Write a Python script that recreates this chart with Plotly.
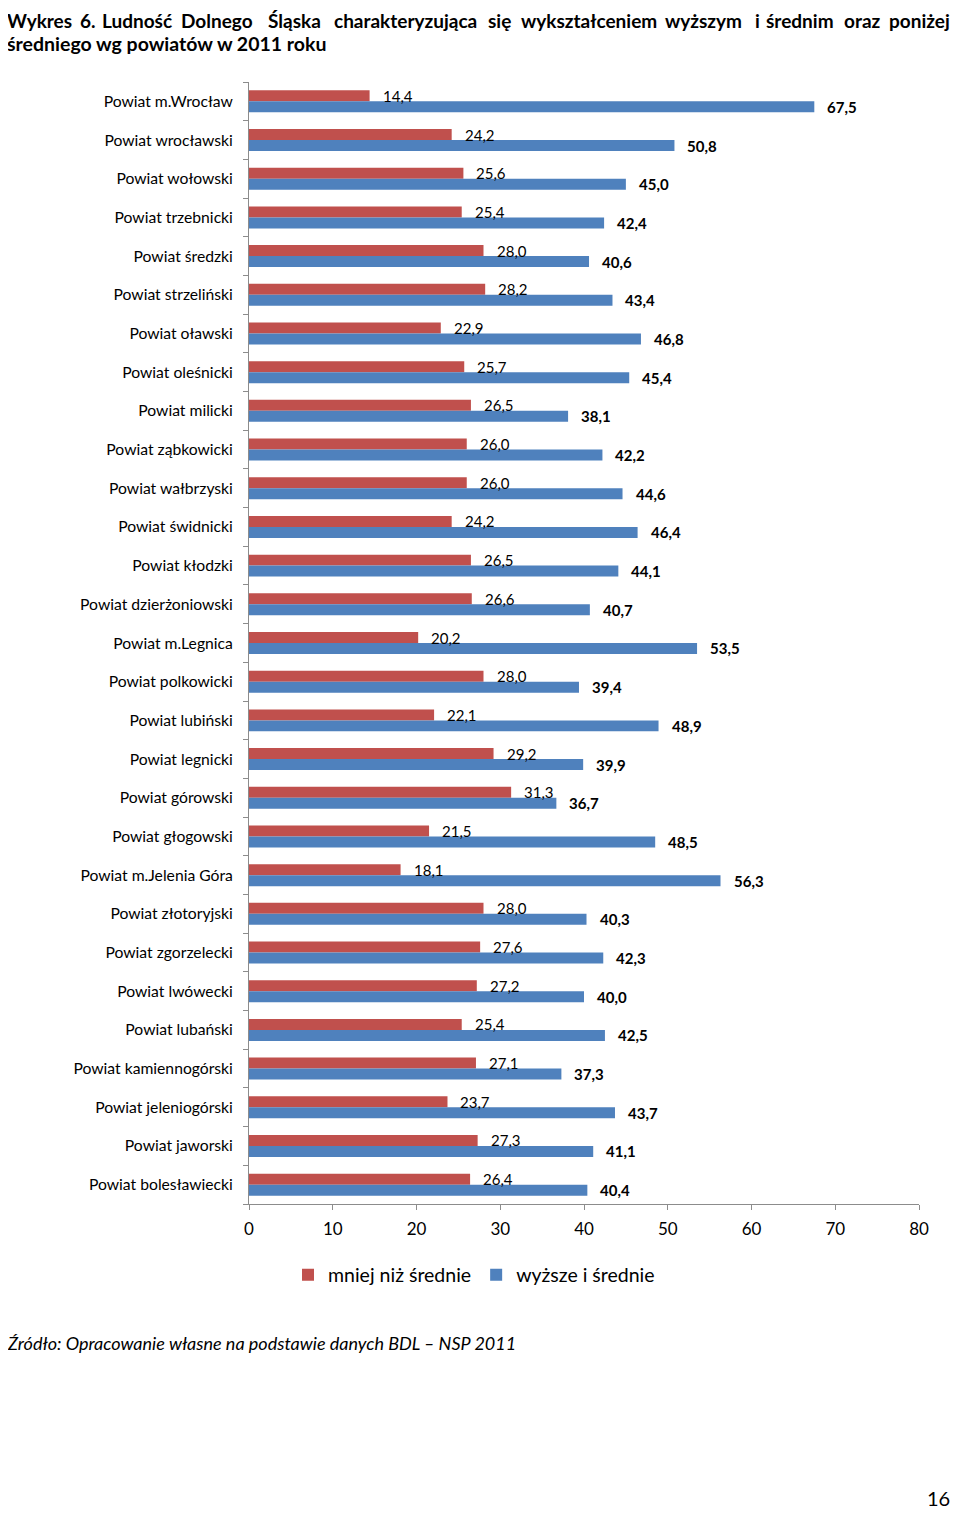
import plotly.graph_objects as go

categories = [
    "Powiat m.Wrocław", "Powiat wrocławski", "Powiat wołowski", "Powiat trzebnicki",
    "Powiat średzki", "Powiat strzeliński", "Powiat oławski", "Powiat oleśnicki",
    "Powiat milicki", "Powiat ząbkowicki", "Powiat wałbrzyski", "Powiat świdnicki",
    "Powiat kłodzki", "Powiat dzierżoniowski", "Powiat m.Legnica", "Powiat polkowicki",
    "Powiat lubiński", "Powiat legnicki", "Powiat górowski", "Powiat głogowski",
    "Powiat m.Jelenia Góra", "Powiat złotoryjski", "Powiat zgorzelecki", "Powiat lwówecki",
    "Powiat lubański", "Powiat kamiennogórski", "Powiat jeleniogórski", "Powiat jaworski",
    "Powiat bolesławiecki",
]
below_avg = [14.4, 24.2, 25.6, 25.4, 28.0, 28.2, 22.9, 25.7, 26.5, 26.0, 26.0, 24.2, 26.5, 26.6,
             20.2, 28.0, 22.1, 29.2, 31.3, 21.5, 18.1, 28.0, 27.6, 27.2, 25.4, 27.1, 23.7, 27.3, 26.4]
higher_avg = [67.5, 50.8, 45.0, 42.4, 40.6, 43.4, 46.8, 45.4, 38.1, 42.2, 44.6, 46.4, 44.1, 40.7,
              53.5, 39.4, 48.9, 39.9, 36.7, 48.5, 56.3, 40.3, 42.3, 40.0, 42.5, 37.3, 43.7, 41.1, 40.4]
series_names = ["mniej niż średnie", "wyższe i średnie"]
x_ticks = [0, 10, 20, 30, 40, 50, 60, 70, 80]

title_words = ["Wykres", "6.", "Ludność", "Dolnego", "Śląska", "charakteryzująca", "się",
               "wykształceniem", "wyższym", "i", "średnim", "oraz", "poniżej"]
title_line2 = "średniego wg powiatów w 2011 roku"
source_text = "Źródło: Opracowanie własne na podstawie danych BDL – NSP 2011"
page_number = "16"

RED = "#C0504D"
BLUE = "#4F81BD"
AXIS = "#8C8C8C"
FONT = "Lato"
BW = 0.284

# figure geometry: the page adds an 8px body margin, so the figure is sized to fit the window
OFF = 8
FW, FH = 944, 1503
L, R, T, B = 241, 33, 74, 307
PW = FW - L - R
PH = FH - T - B


def px(page_x):
    return (page_x - OFF - L) / PW


def py(page_y):
    return (FH - B - (page_y - OFF)) / PH


idx = list(range(len(categories)))


def fmt(v):
    return f"{v:.1f}".replace(".", ",")


fig = go.Figure()
fig.add_trace(go.Bar(y=idx, x=below_avg, orientation="h", name=series_names[0],
                     marker=dict(color=RED, line=dict(width=0)), width=BW, offset=-BW))
fig.add_trace(go.Bar(y=idx, x=higher_avg, orientation="h", name=series_names[1],
                     marker=dict(color=BLUE, line=dict(width=0)), width=BW, offset=0))

annotations = []
for i, (r, b) in enumerate(zip(below_avg, higher_avg)):
    annotations.append(dict(x=r, y=i - BW / 2, text=fmt(r), showarrow=False, xanchor="left",
                            yanchor="middle", xshift=11,
                            font=dict(family=FONT, size=15, color="black")))
    annotations.append(dict(x=b, y=i + BW / 2, text="<b>" + fmt(b) + "</b>", showarrow=False,
                            xanchor="left", yanchor="middle", xshift=11,
                            font=dict(family=FONT, size=15, color="black")))

# justified first title line: word centres (page pixels) as measured on the reference,
# squeezed slightly so the line ends inside the figure
word_centres = [36, 88, 137, 218, 296, 408, 503, 594, 709, 764, 807, 870, 930]
for k, (w, c) in enumerate(zip(title_words, word_centres)):
    if k == 0:
        xa, pxx = "left", OFF - 3
    elif k == len(title_words) - 1:
        xa, pxx = "right", OFF + FW
    else:
        xa, pxx = "center", 5 + (c - 4) * (945 / 954)
    annotations.append(dict(xref="paper", yref="paper", x=px(pxx), y=py(20),
                            xanchor=xa, yanchor="middle", showarrow=False,
                            text="<b>" + w + "</b>",
                            font=dict(family=FONT, size=19, color="black")))
annotations.append(dict(xref="paper", yref="paper", x=px(OFF - 3), y=py(44),
                        xanchor="left", yanchor="middle", showarrow=False,
                        text="<b>" + title_line2 + "</b>",
                        font=dict(family=FONT, size=19.5, color="black")))
annotations.append(dict(xref="paper", yref="paper", x=px(OFF - 3), y=py(1343),
                        xanchor="left", yanchor="middle", showarrow=False,
                        text="<i>" + source_text + "</i>",
                        font=dict(family=FONT, size=18, color="black")))
annotations.append(dict(xref="paper", yref="paper", x=px(OFF + FW), y=py(1498),
                        xanchor="right", yanchor="middle", showarrow=False, text=page_number,
                        font=dict(family=FONT, size=20, color="black")))

fig.update_layout(
    width=FW, height=FH,
    margin=dict(l=L, r=R, t=T, b=B, autoexpand=False),
    paper_bgcolor="white", plot_bgcolor="white",
    barmode="overlay",
    showlegend=True,
    legend=dict(orientation="h", x=px(474), xanchor="center", y=py(1275), yanchor="middle",
                font=dict(family=FONT, size=19.5, color="black"), itemwidth=30, traceorder="normal"),
    annotations=annotations,
    font=dict(family=FONT, color="black"),
)
fig.update_xaxes(range=[0, 80], tickvals=x_ticks, showgrid=False, zeroline=False,
                 showline=True, linecolor=AXIS, linewidth=1, ticks="outside", ticklen=5,
                 tickcolor=AXIS, ticklabelstandoff=5,
                 tickfont=dict(family=FONT, size=17, color="black"))
fig.update_yaxes(range=[len(categories) - 0.5, -0.5], tickvals=idx, ticktext=categories,
                 showgrid=False, zeroline=False, showline=True, linecolor=AXIS, linewidth=1,
                 ticks="", ticklabelstandoff=12,
                 tickfont=dict(family=FONT, size=15.7, color="black"),
                 minor=dict(tickvals=[i - 0.5 for i in range(len(categories) + 1)], ticks="outside",
                            ticklen=5, tickcolor=AXIS, showgrid=False))

fig.write_html("out.html")
